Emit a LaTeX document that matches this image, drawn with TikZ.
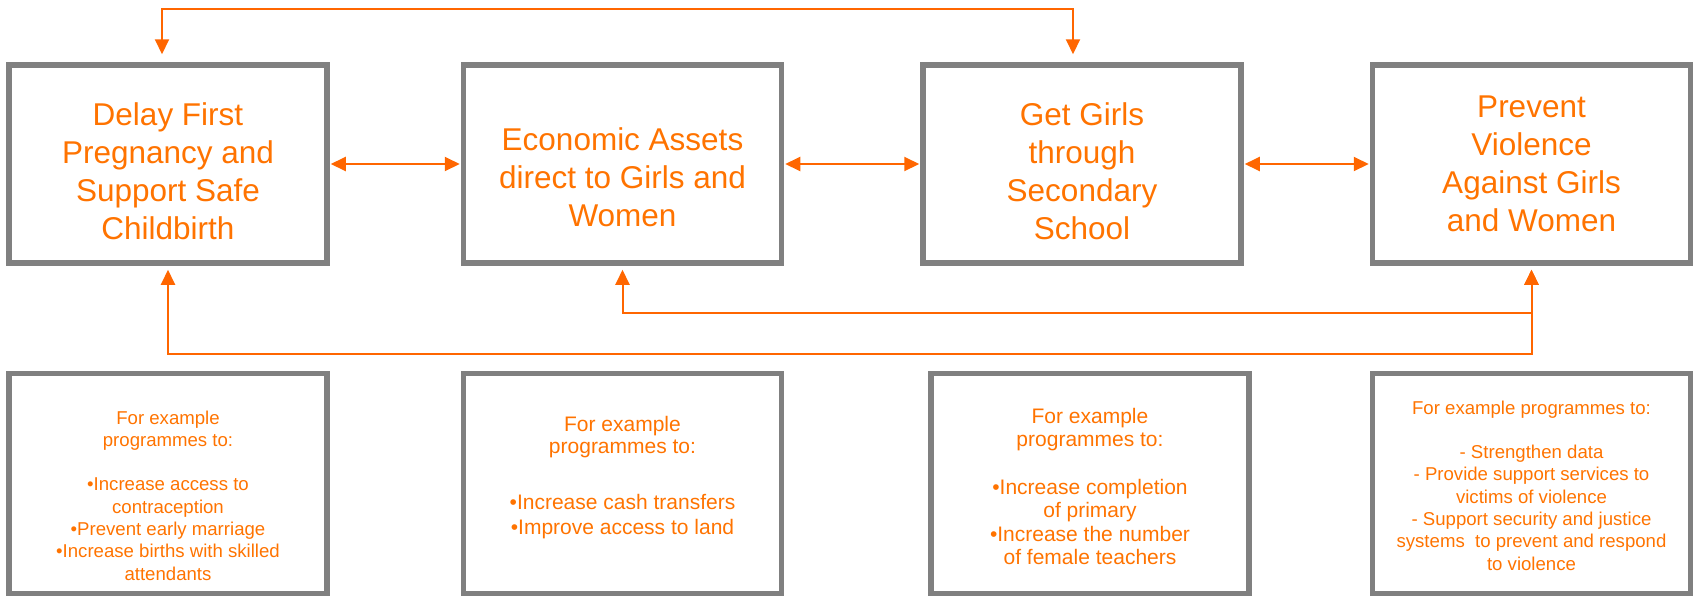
\documentclass[tikz,border=0pt]{standalone}
\usepackage{fontspec}
\setmainfont{Liberation Sans}
\usetikzlibrary{positioning, arrows.meta}
\definecolor{boxgray}{HTML}{808080}
\definecolor{linkorange}{HTML}{FF6600}
\definecolor{textorange}{HTML}{FF7300}

\begin{document}
\begin{tikzpicture}[x=1pt,y=-1pt,>={Triangle[length=15pt,width=14pt]},
    goalbox/.style={draw=boxgray,line width=5.5pt,minimum width=318pt,minimum height=198pt},
    progbox/.style={draw=boxgray,line width=5.5pt,minimum width=318pt,minimum height=220pt},
    goaltxt/.style={align=center,text=textorange,font=\fontsize{31.5}{38}\selectfont},
    smalltxt/.style={align=center,text=textorange,font=\fontsize{18.6}{22.3}\selectfont},
    midtxt/.style={align=center,text=textorange,font=\fontsize{21}{23.5}\selectfont},
    link/.style={draw=linkorange,line width=2pt,<->}]
    \useasboundingbox (0,0) rectangle (1694,598);

    % goals
    \node[goalbox] (b1) at (168,164) {};
    \node[goalbox] (b2) [right=131pt of b1] {};
    \node[goalbox] (b3) [right=136pt of b2] {};
    \node[goalbox] (b4) [right=126pt of b3] {};
    \node[goaltxt] (b1t) at ([yshift=-7.5pt]b1.center) {Delay First\\Pregnancy and\\Support Safe\\Childbirth};
    \node[goaltxt] (b2t) at ([yshift=-13pt]b2.center) {Economic Assets\\direct to Girls and\\Women};
    \node[goaltxt] (b3t) at ([yshift=-7.5pt]b3.center) {Get Girls\\through\\Secondary\\School};
    \node[goaltxt] (b4t) at (b4.center) {Prevent\\Violence\\Against Girls\\and Women};

    % programmes
    \node[progbox] (p1) [below=105pt of b1] {};
    \node[progbox] (p2) [below=105pt of b2] {};
    \node[progbox] (p3) [below=105pt of b3, xshift=8pt] {};
    \node[progbox] (p4) [below=105pt of b4] {};
    \node[smalltxt] (p1t) at ([yshift=-12pt]p1.center) {For example\\programmes to:\\[22pt]
        •Increase access to\\contraception\\•Prevent early marriage\\•Increase births with skilled\\attendants};
    \node[midtxt] (p2t) at ([yshift=6pt]p2.center) {For example\\[-1.5pt]programmes to:\\[33pt]
        •Increase cash transfers\\[1.5pt]•Improve access to land};
    \node[midtxt] (p3t) at ([yshift=-3pt]p3.center) {For example\\programmes to:\\[24pt]
        •Increase completion\\of primary\\•Increase the number\\of female teachers};
    \node[smalltxt] (p4t) at ([yshift=-2pt]p4.center) {For example programmes to:\\[22pt]
        - Strengthen data\\- Provide support services to\\victims of violence\\
        - Support security and justice\\systems\ \ to prevent and respond\\to violence};

    \coordinate (t1) at (162,9);
    \coordinate (t3) at (1073,9);
    \coordinate (low2) at (0,313);
    \coordinate (low1) at (0,354);

    \draw[link,shorten <=1pt,shorten >=1pt] (b1) -- (b2);
    \draw[link,shorten <=1pt,shorten >=1pt] (b2) -- (b3);
    \draw[link,shorten <=1pt,shorten >=1pt] (b3) -- (b4);
    \draw[link,shorten <=8pt,shorten >=8pt] (t1 |- b1.north) -- (t1) -- (t3) -- (t3 |- b3.north);
    \draw[link,shorten <=4pt,shorten >=4pt] (b2.south) -- (b2.south |- low2) -| (b4.south);
    \draw[link,shorten <=4pt,shorten >=4pt] (b1.south) -- (b1.south |- low1) -| (b4.south);
\end{tikzpicture}
\end{document}
